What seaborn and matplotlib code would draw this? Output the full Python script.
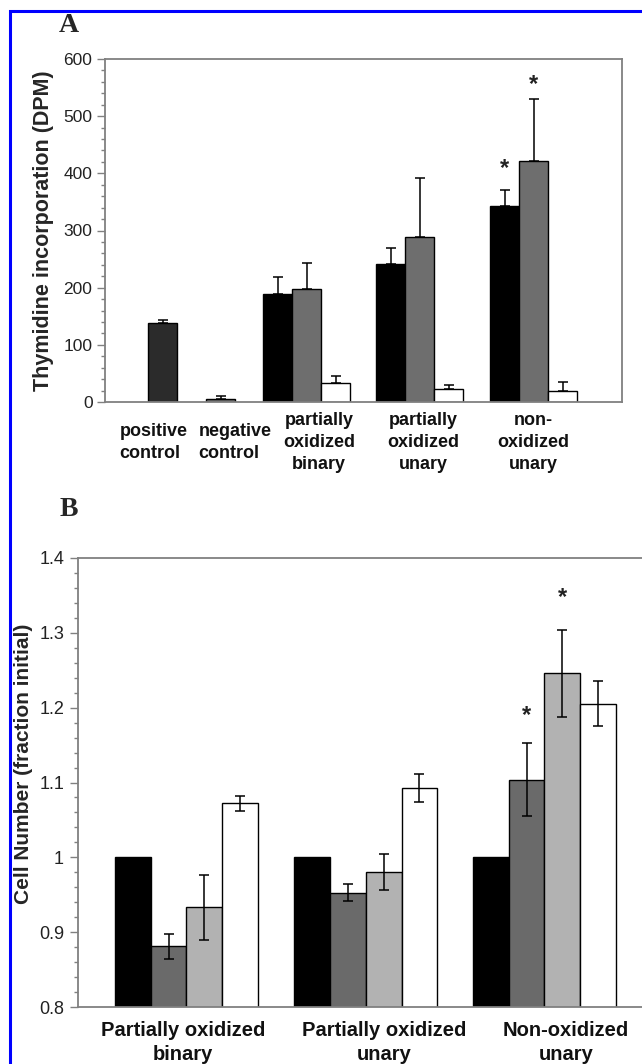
import numpy as np
import pandas as pd
import seaborn as sns
import matplotlib.pyplot as plt
from matplotlib.ticker import MultipleLocator, FuncFormatter
from matplotlib.patches import Rectangle

sns.set_theme(style='white')
plt.rcParams['font.family'] = ['Liberation Sans', 'DejaVu Sans']
plt.rcParams['axes.edgecolor'] = '#808080'

# ---- panel A data (thymidine incorporation, DPM) ----
a_categories = ['positive\ncontrol', 'negative\ncontrol',
                'partially\noxidized\nbinary', 'partially\noxidized\nunary',
                'non-\noxidized\nunary']
a_pos_ctrl = 139
a_pos_ctrl_err = 5
a_neg_ctrl = 6
a_neg_ctrl_err = 5
a_black = [189, 241, 343]
a_black_err = [30, 28, 28]
a_gray = [198, 288, 421]
a_gray_err = [45, 104, 109]
a_white = [33, 23, 20]
a_white_err = [13, 6, 15]
a_star_y = [408, 555]   # stars over non-oxidized unary (black, gray)

# ---- panel B data (cell number, fraction initial) ----
b_categories = ['Partially oxidized\nbinary', 'Partially oxidized\nunary',
                'Non-oxidized\nunary']
b_s1 = [1.0, 1.0, 1.0]
b_s2 = [0.881, 0.953, 1.104]
b_s2_err = [0.017, 0.011, 0.049]
b_s3 = [0.933, 0.980, 1.246]
b_s3_err = [0.044, 0.024, 0.058]
b_s4 = [1.072, 1.093, 1.205]
b_s4_err = [0.010, 0.019, 0.030]
b_star_y = [1.189, 1.347]  # stars over non-oxidized unary (s2, s3)

# layout (bar-width units)
A_CENTERS = [2.0, 4.0, 6.95, 10.85, 14.78]
A_LABEL_X = [1.67, 4.48, 7.38, 10.98, 14.76]
A_XLIM = (0, 17.83)
B_CENTERS = [3.03, 8.04, 13.03]
B_LABEL_X = [2.93, 8.55, 13.63]
B_XLIM = (0, 15.98)

# build long tables
rows = [[A_CENTERS[0], a_pos_ctrl, a_pos_ctrl_err, 'pos'],
        [A_CENTERS[1], a_neg_ctrl, a_neg_ctrl_err, 'neg']]
for i in range(3):
    c = A_CENTERS[2 + i]
    rows.append([c - 1, a_black[i], a_black_err[i], 'black'])
    rows.append([c, a_gray[i], a_gray_err[i], 'gray'])
    rows.append([c + 1, a_white[i], a_white_err[i], 'white'])
df_a = pd.DataFrame(rows, columns=['x', 'value', 'err', 'series'])

rows = []
for i in range(3):
    c = B_CENTERS[i]
    rows.append([c - 1.5, b_s1[i], np.nan, 's1'])
    rows.append([c - 0.5, b_s2[i], b_s2_err[i], 's2'])
    rows.append([c + 0.5, b_s3[i], b_s3_err[i], 's3'])
    rows.append([c + 1.5, b_s4[i], b_s4_err[i], 's4'])
df_b = pd.DataFrame(rows, columns=['x', 'value', 'err', 'series'])

pal_a = {'pos': '#2b2b2b', 'neg': '#6a6a6a', 'black': '#000000',
         'gray': '#6e6e6e', 'white': '#ffffff'}
pal_b = {'s1': '#000000', 's2': '#6a6a6a', 's3': '#b2b2b2', 's4': '#ffffff'}

W, H = 642, 1064
fig = plt.figure(figsize=(W / 100, H / 100), dpi=100)
ax_a = fig.add_axes([105 / W, 1 - 402 / H, 517 / W, 343 / H])
ax_b = fig.add_axes([78 / W, 1 - 1007 / H, 572 / W, 449 / H])

# ---- panel A ----
sns.barplot(data=df_a, x='x', y='value', hue='series', palette=pal_a,
            native_scale=True, dodge=False, width=1.0, errorbar=None,
            edgecolor='black', linewidth=1.0, legend=False, ax=ax_a)
ax_a.errorbar(df_a['x'], df_a['value'],
              yerr=[np.zeros(len(df_a)), df_a['err']],
              fmt='none', ecolor='black', elinewidth=1.1, capsize=3.6,
              capthick=1.1)
ax_a.set_xlim(*A_XLIM)
ax_a.set_ylim(0, 600)
ax_a.yaxis.set_major_locator(MultipleLocator(100))
ax_a.yaxis.set_minor_locator(MultipleLocator(20))
ax_a.set_xticks([])
ax_a.set_xlabel('')
ax_a.set_ylabel('Thymidine incorporation (DPM)', fontsize=15.5,
                fontweight='bold', labelpad=7)
ax_a.tick_params(axis='y', which='major', direction='out', length=6,
                 width=1, color='#808080', labelsize=12.5, labelcolor='#222222',
                 left=True, pad=3)
ax_a.tick_params(axis='y', which='minor', direction='out', length=3,
                 width=1, color='#808080', left=True)
for sp in ax_a.spines.values():
    sp.set_color('#808080')
    sp.set_linewidth(1.3)

for i, lab in enumerate(a_categories):
    al = 'left' if i < 2 else 'center'
    ax_a.text(A_LABEL_X[i], -0.117, lab, transform=ax_a.get_xaxis_transform(),
              ha='center', va='center', multialignment=al,
              fontsize=13, fontweight='bold', color='#111111',
              linespacing=1.38)

star_xa = [A_CENTERS[4] - 1, A_CENTERS[4]]
for x, y in zip(star_xa, a_star_y):
    ax_a.text(x, y, '*', ha='center', va='center', fontsize=17,
              fontweight='bold', color='#222222')

# ---- panel B ----
sns.barplot(data=df_b, x='x', y='value', hue='series', palette=pal_b,
            native_scale=True, dodge=False, width=1.0, errorbar=None,
            edgecolor='black', linewidth=1.0, legend=False, ax=ax_b)
eb = df_b.dropna()
ax_b.errorbar(eb['x'], eb['value'], yerr=eb['err'], fmt='none',
              ecolor='black', elinewidth=1.1, capsize=3.6, capthick=1.1)
ax_b.set_xlim(*B_XLIM)
ax_b.set_ylim(0.8, 1.4)
ax_b.yaxis.set_major_locator(MultipleLocator(0.1))
ax_b.yaxis.set_minor_locator(MultipleLocator(0.02))
ax_b.yaxis.set_major_formatter(FuncFormatter(lambda v, p: f'{v:g}'))
ax_b.set_xticks([])
ax_b.set_xlabel('')
ax_b.set_ylabel('Cell Number (fraction initial)', fontsize=15,
                fontweight='bold')
ax_b.yaxis.set_label_coords(-0.079, 0.541)
ax_b.tick_params(axis='y', which='major', direction='out', length=6,
                 width=1, color='#808080', labelsize=13, labelcolor='#222222',
                 left=True, pad=4)
ax_b.tick_params(axis='y', which='minor', direction='out', length=3,
                 width=1, color='#808080', left=True)
for sp in ax_b.spines.values():
    sp.set_color('#808080')
    sp.set_linewidth(1.3)
ax_b.spines['right'].set_visible(False)

for i, lab in enumerate(b_categories):
    ax_b.text(B_LABEL_X[i], -0.079, lab, transform=ax_b.get_xaxis_transform(),
              ha='center', va='center', fontsize=14.5, fontweight='bold',
              color='#111111', linespacing=1.3)

star_xb = [B_CENTERS[2] - 0.5, B_CENTERS[2] + 0.5]
for x, y in zip(star_xb, b_star_y):
    ax_b.text(x, y, '*', ha='center', va='center', fontsize=17,
              fontweight='bold', color='#222222')

# panel letters
fig.text(69 / W, 1 - 26 / H, 'A', fontsize=20, fontweight='bold',
         family='Liberation Serif', ha='center', va='center')
fig.text(69 / W, 1 - 510 / H, 'B', fontsize=20, fontweight='bold',
         family='Liberation Serif', ha='center', va='center')

# blue frame (left and top edges)
fig.add_artist(Rectangle((10.5 / W, -0.1), 1.0, 1.1 - 10.5 / H,
                         transform=fig.transFigure, fill=False,
                         edgecolor='#0000ff', linewidth=2.2))

fig.savefig('out.png', dpi=100)
